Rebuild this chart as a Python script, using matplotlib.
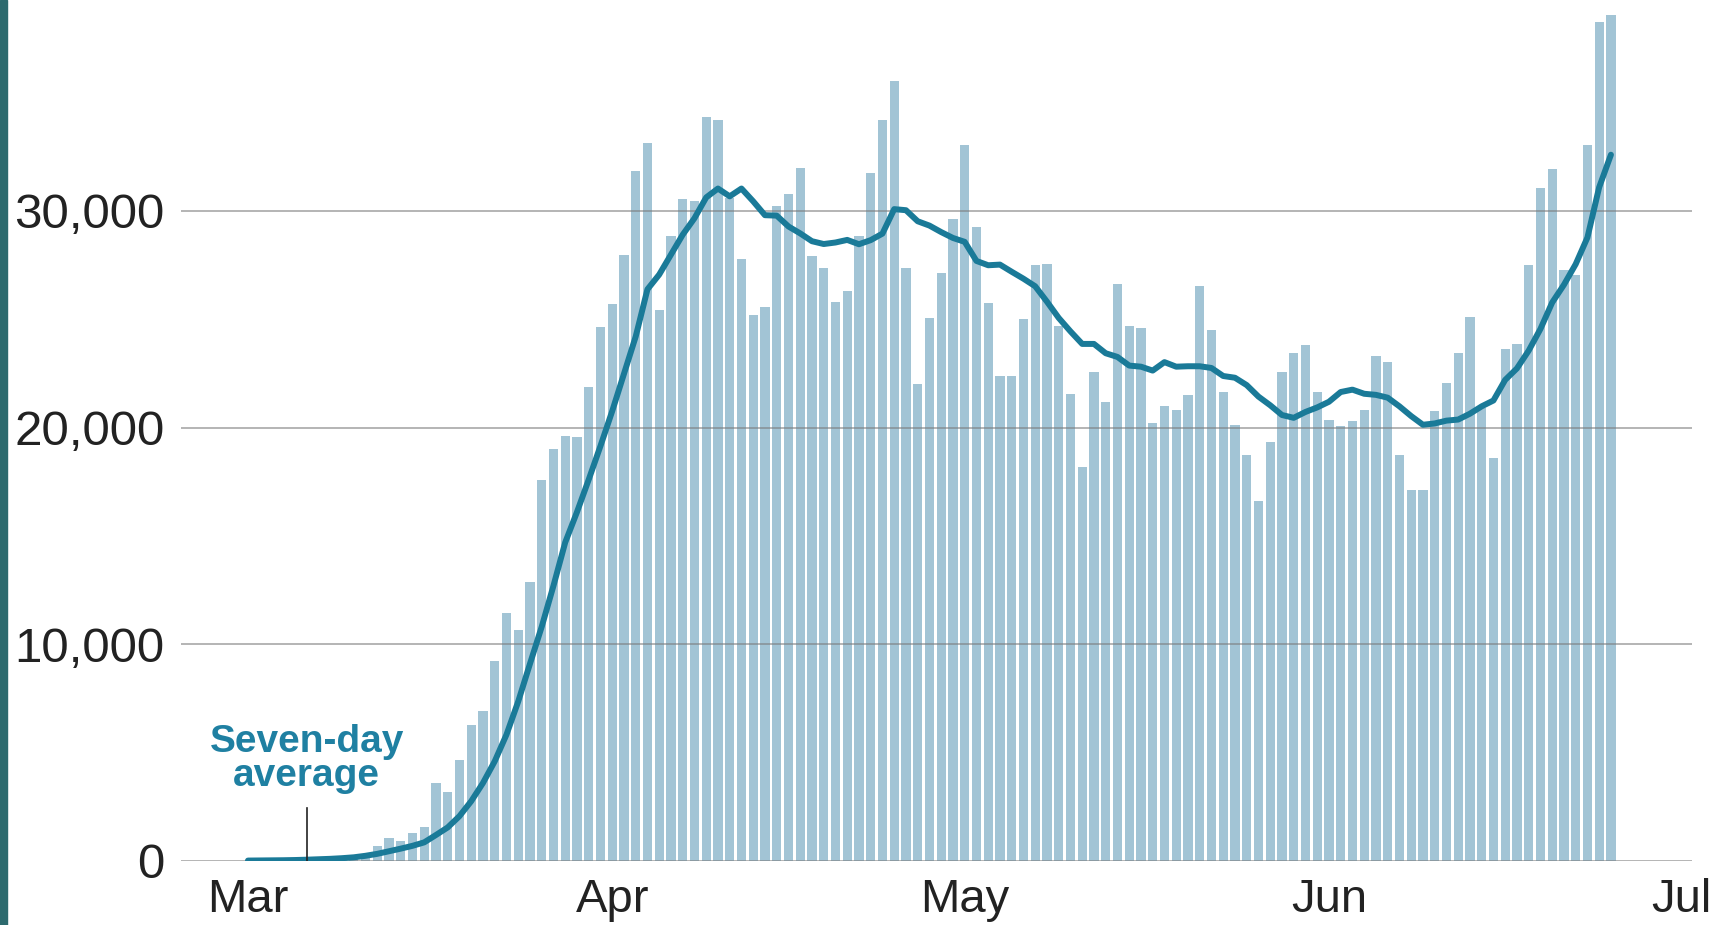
import numpy as np
import pandas as pd
import matplotlib
matplotlib.use("Agg")
import matplotlib.pyplot as plt
import matplotlib.dates as mdates
from matplotlib.patches import Rectangle

plt.rcParams['font.family'] = ['Liberation Sans', 'DejaVu Sans']

# daily new cases, 1 Mar - 25 Jun
start = "2020-03-01"
daily_cases = [
    20, 25, 30, 40, 70, 60, 100, 110, 150, 250,
    330, 700, 1070, 920, 1270, 1560, 3600, 3190, 4660, 6290,
    6900, 9230, 11460, 10640, 12870, 17600, 19020, 19630, 19550, 21890,
    24660, 25690, 27960, 31830, 33140, 25410, 28830, 30570, 30440, 34330,
    34170, 30600, 27800, 25200, 25570, 30220, 30800, 32000, 27930, 27350,
    25790, 26290, 28850, 31740, 34190, 36010, 27370, 22000, 25060, 27120,
    29620, 33030, 29270, 25740, 22360, 22360, 24990, 27490, 27570, 24690,
    21550, 18170, 22560, 21180, 26620, 24690, 24610, 20230, 20980, 20790,
    21510, 26540, 24500, 21640, 20110, 18730, 16610, 19340, 22570, 23440,
    23810, 21640, 20370, 20050, 20320, 20790, 23310, 23020, 18730, 17140,
    17140, 20770, 22040, 23440, 25110, 20900, 18600, 23630, 23850, 27480,
    31070, 31940, 27260, 27040, 33020, 38700, 39050,
]

# seven-day average line
seven_day_avg = [
    20, 25, 30, 35, 45, 60, 80, 100, 130, 170,
    240, 330, 450, 570, 700, 860, 1200, 1550, 2070, 2760,
    3600, 4600, 5830, 7360, 9100, 10810, 12700, 14700, 16100, 17600,
    19150, 20760, 22480, 24200, 26380, 27060, 27980, 28900, 29660, 30620,
    31030, 30670, 31030, 30440, 29800, 29780, 29280, 28960, 28600, 28470,
    28540, 28660, 28460, 28650, 28950, 30080, 30030, 29520, 29320, 29020,
    28750, 28570, 27690, 27490, 27520, 27190, 26870, 26520, 25810, 25060,
    24440, 23860, 23860, 23430, 23260, 22860, 22810, 22630, 23020, 22810,
    22830, 22830, 22750, 22380, 22300, 21960, 21430, 21030, 20580, 20450,
    20720, 20930, 21190, 21640, 21750, 21560, 21510, 21380, 20980, 20530,
    20130, 20190, 20320, 20370, 20640, 20980, 21250, 22200, 22730, 23550,
    24550, 25770, 26590, 27540, 28770, 31090, 32590,
]

y_ticks = [0, 10000, 20000, 30000]
y_tick_labels = ["0", "10,000", "20,000", "30,000"]

dates = pd.date_range(start, periods=len(daily_cases), freq="D")
d0 = pd.Timestamp(start)

W, H = 1734, 925
fig = plt.figure(figsize=(W / 100, H / 100), dpi=100)
ax = fig.add_axes([181 / W, (H - 861) / H, (1692 - 181) / W, 861 / H])

bar_col = "#a2c4d5"
line_col = "#1a7a98"

ax.bar(dates, daily_cases, width=0.78, color=bar_col, zorder=1)
for t in y_ticks:
    ax.axhline(t, color="#7a7a7a", alpha=0.6, lw=1.3, zorder=2)
ax.plot(dates, seven_day_avg, color=line_col, lw=4.3, zorder=3,
        solid_capstyle="round", solid_joinstyle="round")

ax.set_xlim(d0 - pd.Timedelta(days=5.7), d0 + pd.Timedelta(days=122.9))
ax.set_ylim(0, 39730)

ax.set_yticks(y_ticks)
ax.set_yticklabels(y_tick_labels)
ax.xaxis.set_major_locator(mdates.MonthLocator())
ax.xaxis.set_major_formatter(mdates.DateFormatter("%b"))
ax.tick_params(axis="x", length=0, labelsize=34, colors="#222222", pad=12)
ax.tick_params(axis="y", length=0, labelsize=35.5, colors="#222222", pad=12)
for s in ax.spines.values():
    s.set_visible(False)

# label for the average line
lab_x = d0 + pd.Timedelta(days=5)
ax.plot([lab_x, lab_x], [0, 2450], color="#222222", lw=1.2, zorder=4)
ax.text(lab_x, 4700, "Seven-day\naverage", ha="center", va="center",
        fontsize=28, fontweight="bold", color="#1f80a2", linespacing=0.92)

# dark strip at the left edge
fig.patches.append(Rectangle((0, 0), 7 / W, 1, transform=fig.transFigure,
                             color="#2d6a6e", zorder=10))

fig.savefig("out.png", dpi=100)
